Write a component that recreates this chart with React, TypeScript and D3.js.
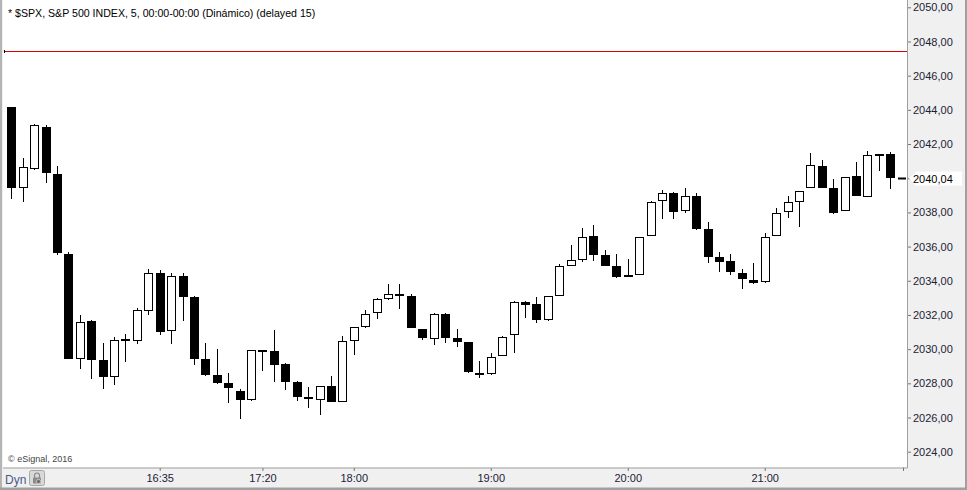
import { useEffect, useRef } from 'react';
import * as d3 from 'd3';

// 5 minute bars, 15:30 -> 21:55
const opens = [
    2044.18, 2039.41, 2040.56, 2043.00, 2040.25, 2035.56, 2029.40, 2031.64, 2029.36, 2028.39,
    2030.59, 2030.49, 2032.25, 2034.45, 2031.04, 2034.28, 2033.05, 2029.44, 2028.48, 2028.02,
    2027.55, 2027.04, 2029.95, 2029.89, 2029.13, 2028.06, 2027.20, 2027.00, 2027.82, 2026.92,
    2030.49, 2031.31, 2032.09, 2032.95, 2033.22, 2033.11, 2031.18, 2030.61, 2032.05, 2030.63,
    2030.42, 2028.60, 2028.53, 2029.58, 2030.81, 2032.76, 2032.64, 2031.72, 2033.12, 2034.88,
    2035.23, 2036.62, 2035.51, 2034.86, 2034.34, 2034.32, 2036.60, 2038.65, 2039.12, 2038.06,
    2038.96, 2037.01, 2035.37, 2035.15, 2034.45, 2034.04, 2033.94, 2036.64, 2038.00, 2038.62,
    2039.44, 2040.71, 2039.43, 2038.06, 2040.13, 2038.92, 2041.42, 2041.40
];
const highs = [
    2044.18, 2041.18, 2043.17, 2043.11, 2040.71, 2035.68, 2032.00, 2031.70, 2030.34, 2030.69,
    2030.88, 2032.39, 2034.69, 2034.61, 2034.45, 2034.45, 2033.12, 2030.34, 2030.00, 2028.60,
    2027.67, 2029.93, 2029.95, 2031.12, 2029.19, 2028.13, 2027.78, 2027.82, 2028.43, 2030.77,
    2031.29, 2032.29, 2032.99, 2033.81, 2033.81, 2033.22, 2031.18, 2032.11, 2032.11, 2031.18,
    2030.42, 2029.32, 2029.77, 2030.77, 2032.81, 2032.83, 2033.05, 2033.09, 2034.96, 2036.09,
    2037.09, 2037.26, 2035.80, 2035.56, 2035.27, 2036.54, 2038.67, 2039.29, 2039.18, 2039.41,
    2039.12, 2037.42, 2035.68, 2035.56, 2034.69, 2035.04, 2036.78, 2038.24, 2038.96, 2039.23,
    2041.49, 2041.06, 2039.94, 2040.07, 2040.95, 2041.59, 2041.42, 2041.52
];
const lows = [
    2038.77, 2038.62, 2040.48, 2039.74, 2035.52, 2029.40, 2028.82, 2028.27, 2027.65, 2027.92,
    2029.26, 2030.30, 2032.01, 2030.84, 2030.30, 2031.66, 2029.09, 2028.44, 2027.96, 2026.83,
    2025.89, 2026.98, 2028.74, 2028.09, 2027.62, 2026.98, 2026.57, 2026.16, 2026.89, 2026.89,
    2029.67, 2031.25, 2031.78, 2032.89, 2032.36, 2031.25, 2030.53, 2030.26, 2030.37, 2030.12,
    2028.62, 2028.33, 2028.47, 2029.58, 2029.79, 2031.84, 2031.54, 2031.66, 2033.12, 2034.88,
    2035.11, 2035.17, 2034.88, 2034.18, 2034.24, 2034.32, 2036.60, 2037.63, 2037.63, 2037.95,
    2036.99, 2035.06, 2034.53, 2034.34, 2033.53, 2033.81, 2033.87, 2036.64, 2037.67, 2037.14,
    2039.44, 2039.44, 2037.89, 2038.06, 2038.98, 2038.92, 2040.42, 2039.39
];
const closes = [
    2039.44, 2040.64, 2043.11, 2040.32, 2035.64, 2029.44, 2031.57, 2029.38, 2028.39, 2030.53,
    2030.49, 2032.29, 2034.45, 2031.02, 2034.28, 2033.07, 2029.40, 2028.48, 2028.03, 2027.74,
    2027.04, 2029.93, 2029.85, 2029.09, 2028.09, 2027.22, 2027.10, 2027.82, 2026.92, 2030.47,
    2031.29, 2032.05, 2032.91, 2033.21, 2033.12, 2031.25, 2030.67, 2032.05, 2030.67, 2030.43,
    2028.68, 2028.50, 2029.52, 2030.69, 2032.74, 2032.60, 2031.72, 2033.09, 2034.84, 2035.20,
    2036.54, 2035.51, 2034.88, 2034.24, 2034.24, 2036.54, 2038.59, 2039.12, 2038.04, 2038.94,
    2037.05, 2035.41, 2035.11, 2034.53, 2034.08, 2033.89, 2036.56, 2037.96, 2038.61, 2039.23,
    2040.77, 2039.44, 2037.98, 2040.07, 2038.98, 2041.34, 2041.32, 2040.04
];

const firstBar = '15:30';
const lastBar = '21:55';
const timeTicks = ['16:35', '17:20', '18:00', '19:00', '20:00', '21:00'];
const priceTicks = [2024, 2026, 2028, 2030, 2032, 2034, 2036, 2038, 2040, 2042, 2044, 2046, 2048, 2050];
const alertLevel = 2047.45;
const lastPrice = 2040.04;
const title = '* $SPX, S&P 500 INDEX, 5, 00:00-00:00 (Dinámico) (delayed 15)';

const W = 967;
const H = 490;
const FONT = '"Liberation Sans", Arial, sans-serif';

const toDate = (hm: string) => {
    const [h, m] = hm.split(':').map(Number);
    return new Date(2016, 0, 4, h, m);
};

const CandleChart = () => {
    const ref = useRef<SVGSVGElement>(null);

    useEffect(() => {
        const plot = { left: 3, top: 0, right: 907, bottom: 467.5 };

        const times = d3.timeMinute.every(5)!.range(toDate(firstBar), d3.timeMinute.offset(toDate(lastBar), 1));
        const bars = times.map((t, i) => ({ t, o: opens[i], h: highs[i], l: lows[i], c: closes[i] }));

        const x = d3.scaleTime()
            .domain([toDate(firstBar), toDate(lastBar)])
            .range([11.3, 890.3]);
        const y = d3.scaleLinear()
            .domain([2024, 2050])
            .range([451.7, 7.3]);

        const svg = d3.select(ref.current);
        svg.selectAll('*').remove();
        svg.attr('viewBox', [0, 0, W, H].join(' '));

        // frame
        svg.append('rect').attr('width', W).attr('height', H).attr('fill', '#f0f0f0');
        svg.append('rect')
            .attr('x', plot.left).attr('y', plot.top)
            .attr('width', plot.right - plot.left).attr('height', plot.bottom - plot.top)
            .attr('fill', '#fff');
        svg.append('path')
            .attr('d', `M${plot.right + 0.5},0V${plot.bottom + 0.5}H${plot.left}`)
            .attr('fill', 'none').attr('stroke', '#a0a0a0');
        svg.append('rect').attr('x', 0).attr('y', 0).attr('width', 2).attr('height', H).attr('fill', '#b4b4b4');
        svg.append('rect').attr('x', W - 2).attr('y', 0).attr('width', 2).attr('height', H).attr('fill', '#a0a0a0');
        svg.append('rect').attr('x', 0).attr('y', H - 2.5).attr('width', W).attr('height', 2.5).attr('fill', '#a0a0a0');

        // header + copyright
        svg.append('text')
            .attr('x', 8).attr('y', 17)
            .style('font', `10.6px ${FONT}`).attr('fill', '#000')
            .text(title);
        svg.append('text')
            .attr('x', 8).attr('y', 461.5)
            .style('font', `9px ${FONT}`).attr('fill', '#444')
            .text('© eSignal, 2016');

        // alert line
        const ya = Math.round(y(alertLevel)) + 0.5;
        svg.append('line')
            .attr('x1', plot.left + 1).attr('x2', plot.right)
            .attr('y1', ya).attr('y2', ya)
            .attr('stroke', '#e00000').attr('stroke-width', 1);
        svg.append('line')
            .attr('x1', 4.5).attr('x2', 4.5).attr('y1', ya - 1.5).attr('y2', ya + 1.5)
            .attr('stroke', '#000');

        // candles
        const g = svg.append('g').attr('class', 'candles');
        bars.forEach((d) => {
            const cx = Math.round(x(d.t));
            const yHi = Math.round(y(d.h));
            const yLo = Math.round(y(d.l));
            const yTop = Math.round(y(Math.max(d.o, d.c)));
            const yBot = Math.round(y(Math.min(d.o, d.c)));
            g.append('line')
                .attr('x1', cx + 0.5).attr('x2', cx + 0.5)
                .attr('y1', yHi).attr('y2', yLo)
                .attr('stroke', '#000').attr('stroke-width', 1);
            if (yBot - yTop < 3) {
                const mid = (yTop + yBot) / 2;
                g.append('rect')
                    .attr('x', cx - 4).attr('y', Math.round(mid - 1))
                    .attr('width', 9).attr('height', 2)
                    .attr('fill', '#000');
            } else if (d.c < d.o) {
                g.append('rect')
                    .attr('x', cx - 4).attr('y', yTop)
                    .attr('width', 9).attr('height', yBot - yTop)
                    .attr('fill', '#000');
            } else {
                g.append('rect')
                    .attr('x', cx - 3.5).attr('y', yTop + 0.5)
                    .attr('width', 8).attr('height', yBot - yTop - 1)
                    .attr('fill', '#fff').attr('stroke', '#000').attr('stroke-width', 1);
            }
        });

        // right price axis
        const yAxis = svg.append('g')
            .attr('transform', `translate(${plot.right + 1}, 0)`)
            .call(d3.axisRight(y)
                .tickValues(priceTicks)
                .tickSize(3)
                .tickPadding(2)
                .tickFormat((v: any) => d3.format('.2f')(v).replace('.', ',')));
        yAxis.select('.domain').remove();
        yAxis.selectAll('.tick line').attr('stroke', '#777');
        yAxis.selectAll('.tick text')
            .style('font', `11px ${FONT}`).attr('fill', '#1c2236');

        // last price marker
        const yl = Math.round(y(lastPrice));
        svg.append('line')
            .attr('x1', 898).attr('x2', 906)
            .attr('y1', yl + 0.5).attr('y2', yl + 0.5)
            .attr('stroke', '#000').attr('stroke-width', 2);
        svg.append('path')
            .attr('d', `M909,${yl + 0.5}L916,${yl - 6.5}H962V${yl + 7.5}H916Z`)
            .attr('fill', '#fff');
        svg.append('text')
            .attr('x', 913).attr('y', yl + 4.5)
            .style('font', `11px ${FONT}`).attr('fill', '#000')
            .text(d3.format('.2f')(lastPrice).replace('.', ','));

        // bottom time axis
        const xAxis = svg.append('g')
            .attr('transform', `translate(0, ${plot.bottom + 0.5})`)
            .call(d3.axisBottom(x)
                .tickValues(timeTicks.map(toDate))
                .tickSize(3)
                .tickPadding(3)
                .tickFormat((v: any) => d3.timeFormat('%H:%M')(v)));
        xAxis.select('.domain').remove();
        xAxis.selectAll('.tick line').attr('stroke', '#777');
        xAxis.selectAll('.tick text')
            .style('font', `11px ${FONT}`).attr('fill', '#1c2236');
        svg.append('line')
            .attr('x1', 903.5).attr('x2', 903.5).attr('y1', plot.bottom).attr('y2', plot.bottom + 3.5)
            .attr('stroke', '#777');

        // Dyn + lock button
        svg.append('text')
            .attr('x', 5).attr('y', 484)
            .style('font', `12px ${FONT}`).attr('fill', '#4a5a86')
            .text('Dyn');
        svg.append('rect')
            .attr('x', 29.5).attr('y', 470.5).attr('width', 15).attr('height', 15).attr('rx', 2)
            .attr('fill', '#d9d9d9').attr('stroke', '#a8a8a8');
        svg.append('path')
            .attr('d', 'M34.5,478V475.5A2.5,2.5 0 0 1 39.5,475.5V478')
            .attr('fill', 'none').attr('stroke', '#8a8a8a').attr('stroke-width', 1.2);
        svg.append('rect')
            .attr('x', 33).attr('y', 477.5).attr('width', 8).attr('height', 6).attr('rx', 1)
            .attr('fill', '#8a8a8a');
        svg.append('circle').attr('cx', 38.5).attr('cy', 481.5).attr('r', 2.2)
            .attr('fill', '#6e6e6e').attr('stroke', '#d9d9d9').attr('stroke-width', 0.8);
    }, []);

    return (
        <svg ref={ref} width={W} height={H} style={{ position: 'absolute', left: 0, top: 0, display: 'block' }}></svg>
    );
};

export default function App() {
    return <CandleChart />;
}
